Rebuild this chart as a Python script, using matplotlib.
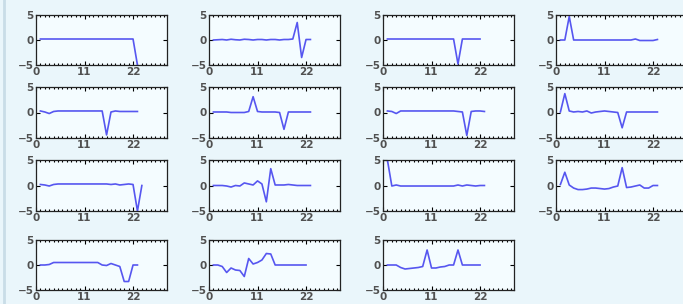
import numpy as np
import matplotlib
matplotlib.use('Agg')
import matplotlib.pyplot as plt
from matplotlib.ticker import MultipleLocator

# one series per panel, row by row (x = 1, 2, 3, ...)
s1 = [0.2]*22 + [-5.0]
s2 = [0.0, 0.05, 0.1, 0.0, 0.15, 0.05, 0.0, 0.15, 0.1, 0.0, 0.1, 0.1, 0.0, 0.1, 0.1, 0.0, 0.1, 0.1, 0.2,
      3.5, -3.5, 0.1, 0.1]
s3 = [0.2]*16 + [-4.8] + [0.2]*5
s4 = [0.0, 0.0, 4.7] + [0.0]*14 + [0.2, -0.1, -0.1, -0.1, -0.1, 0.1]
s5 = [0.3, 0.1, -0.2, 0.2] + [0.3]*11 + [-4.4, 0.1, 0.3, 0.2, 0.2, 0.2, 0.2, 0.2]
s6 = [0.1, 0.1, 0.1, 0.1, 0.0, 0.0, 0.0, 0.0, 0.2, 3.1, 0.2, 0.1, 0.1, 0.1, 0.1, 0.0, -3.3,
      0.1, 0.1, 0.1, 0.1, 0.1, 0.1]
s7 = [0.3, 0.2, -0.2] + [0.3]*13 + [0.2, 0.1, -4.5, 0.2, 0.3, 0.3, 0.2]
s8 = [0.1, 3.7, 0.3, 0.1, 0.2, 0.1, 0.3, -0.1, 0.1, 0.2, 0.3, 0.2, 0.1, 0.0, -3.0] + [0.1]*8
s9 = [0.2, 0.1, -0.1, 0.2] + [0.3]*12 + [0.2, 0.3, 0.1, 0.2, 0.3, 0.2, -5.0, 0.0]
s10 = [0.0, 0.0, 0.0, -0.1, -0.3, 0.0, -0.1, 0.5, 0.3, 0.1, 0.9, 0.3, -3.2, 3.3, 0.1, 0.1, 0.1,
       0.2, 0.1, 0.0, 0.0, 0.0, 0.0]
s11 = [5.0, -0.1, 0.1] + [-0.1]*13 + [0.1, -0.1, 0.1, 0.0, -0.1, 0.0, 0.0]
s12 = [0.2, 2.6, 0.1, -0.5, -0.8, -0.8, -0.7, -0.5, -0.5, -0.6, -0.7, -0.6, -0.3, -0.1, 3.5,
       -0.4, -0.3, -0.1, 0.1, -0.5, -0.5, 0.0, 0.0]
s13 = [0.0, 0.0, 0.1] + [0.5]*11 + [0.0, -0.1, 0.3, 0.0, -0.3, -3.3, -3.3, 0.0, 0.0]
s14 = [0.0, 0.0, -0.3, -1.5, -0.6, -1.0, -1.1, -2.3, 1.3, 0.2, 0.5, 1.0, 2.3, 2.2] + [0.0]*8
s15 = [0.0, 0.0, 0.0, -0.5, -0.8, -0.7, -0.6, -0.5, -0.3, 3.0, -0.6, -0.6, -0.4, -0.3, 0.0, 0.0,
       3.0] + [0.0]*5

series = [s1, s2, s3, s4, s5, s6, s7, s8, s9, s10, s11, s12, s13, s14, s15]
xticks = [0, 11, 22]
yticks = [-5, 0, 5]

W, H = 683, 304
col_left = [36, 209, 383, 556]
row_tb = [(15, 65), (87, 138), (160, 211), (240, 290)]
ax_w = 131

fig = plt.figure(figsize=(W/100, H/100), dpi=100, facecolor='#eaf6fb')
# window edge on the left
fig.add_artist(plt.Line2D([4/W, 4/W], [0, 1], color='#c9dde7', lw=2))

for i, s in enumerate(series):
    r, c = divmod(i, 4)
    top, bot = row_tb[r]
    ax = fig.add_axes([col_left[c]/W, 1 - bot/H, ax_w/W, (bot - top)/H])
    ax.set_facecolor('#f4fcff')
    x = np.arange(1, len(s) + 1)
    ax.plot(x, s, color='#5656f0', lw=1.2)
    ax.set_xlim(0, 29.7)
    ax.set_ylim(-5, 5)
    ax.set_xticks(xticks)
    ax.set_yticks(yticks)
    ax.xaxis.set_minor_locator(MultipleLocator(1))
    ax.tick_params(which='both', direction='in', top=True, right=True,
                   labelsize=7.5, labelcolor='#505050', pad=1.5)
    ax.tick_params(which='major', length=3, width=0.8)
    ax.tick_params(which='minor', length=1.5, width=0.8)
    for lab in ax.get_xticklabels() + ax.get_yticklabels():
        lab.set_fontweight('bold')
    for sp in ax.spines.values():
        sp.set_linewidth(0.9)
        sp.set_color('#222222')

fig.savefig('out.png', dpi=100, facecolor=fig.get_facecolor())
